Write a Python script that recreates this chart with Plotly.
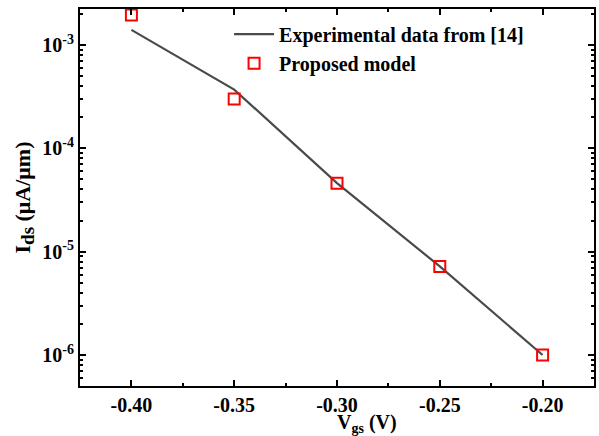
import plotly.graph_objects as go

# Gate voltage (V)
vgs = [-0.40, -0.35, -0.30, -0.25, -0.20]
# Drain current (uA/um)
ids_experimental = [1.4e-3, 3.7e-4, 4.6e-5, 7.2e-6, 1.0e-6]
ids_model = [1.95e-3, 3.0e-4, 4.6e-5, 7.2e-6, 1.0e-6]

x_ticks = [-0.40, -0.35, -0.30, -0.25, -0.20]
x_ticktext = ["-0.40", "-0.35", "-0.30", "-0.25", "-0.20"]
y_ticks = [1e-6, 1e-5, 1e-4, 1e-3]
y_ticktext = ["10<sup>-6</sup>", "10<sup>-5</sup>", "10<sup>-4</sup>", "10<sup>-3</sup>"]

font_family = "Liberation Serif"

fig = go.Figure()
fig.add_trace(go.Scatter(
    x=vgs, y=ids_experimental, mode="lines",
    name="Experimental data from [14]",
    line=dict(color="#4a4a4a", width=2.2),
))
fig.add_trace(go.Scatter(
    x=vgs, y=ids_model, mode="markers",
    name="Proposed model",
    marker=dict(symbol="square-open", size=11, color="#ff0000",
                line=dict(width=2, color="#ff0000")),
))

minor_y = [m * 10.0 ** e for e in range(-7, -2) for m in range(2, 10)]

fig.update_layout(
    width=599, height=436,
    margin=dict(l=80, r=3, t=9, b=50),
    paper_bgcolor="white", plot_bgcolor="white",
    font=dict(family=font_family, size=20, color="black", weight="bold"),
    showlegend=True,
    legend=dict(x=0.29, y=0.985, xanchor="left", yanchor="top",
                bgcolor="rgba(0,0,0,0)", font=dict(size=20),
                itemwidth=40, tracegroupgap=0),
    xaxis=dict(
        range=[-0.425, -0.175],
        tickmode="array", tickvals=x_ticks, ticktext=x_ticktext,
        ticks="inside", ticklen=6, tickwidth=1.5, tickcolor="black",
        showline=True, linecolor="black", linewidth=2, mirror="ticks",
        showgrid=False, zeroline=False,
        minor=dict(tickmode="array",
                   tickvals=[-0.425, -0.375, -0.325, -0.275, -0.225, -0.175],
                   ticks="inside", ticklen=3, tickwidth=1.5, tickcolor="black"),
    ),
    yaxis=dict(
        type="log", range=[-6.30, -2.652],
        tickmode="array", tickvals=y_ticks, ticktext=y_ticktext,
        ticks="inside", ticklen=6, tickwidth=1.5, tickcolor="black",
        showline=True, linecolor="black", linewidth=2, mirror="ticks",
        showgrid=False, zeroline=False,
        minor=dict(tickmode="array", tickvals=minor_y,
                   ticks="inside", ticklen=3, tickwidth=1.5, tickcolor="black"),
        title=dict(text='I<sub><span style="font-size:19px">ds</span></sub> (μA/μm)',
                   standoff=6, font=dict(size=22)),
    ),
)

# x-axis title, set slightly right of centre under the axis
fig.add_annotation(
    text="V<sub>gs</sub> (V)", xref="paper", yref="paper",
    x=0.558, y=-0.062, xanchor="center", yanchor="top",
    showarrow=False, font=dict(size=20),
)

fig.write_html("out.html")
